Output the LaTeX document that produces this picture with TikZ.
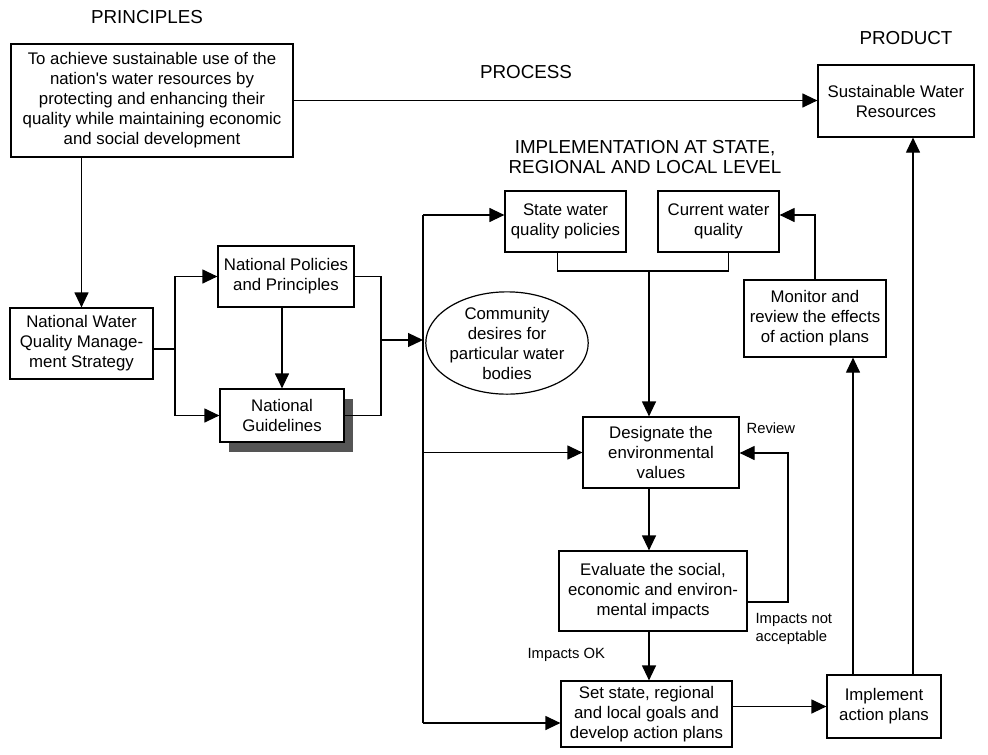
\documentclass[tikz,border=0pt]{standalone}
\usepackage{fontspec}
\setmainfont{Liberation Sans}
\usetikzlibrary{arrows.meta,shapes.geometric,shadows}
\definecolor{shadowgray}{HTML}{555555}

\begin{document}
\begin{tikzpicture}[x=1pt,y=-1pt,line width=1.2pt,
  box/.style={draw,align=center,inner sep=0,font=\fontsize{16.8}{20}\selectfont},
  arr/.style={-{Triangle[length=15pt,width=14pt]}},
  head/.style={align=center,inner sep=0,font=\fontsize{18.8}{20.5}\selectfont},
  note/.style={align=left,anchor=west,inner sep=0,font=\fontsize{14.8}{17.3}\selectfont}]
\useasboundingbox (0,0) rectangle (988,755);
\node[head] (hprin) at (147,17) {PRINCIPLES};
\node[head] (hproc) at (526,72) {PROCESS};
\node[head] (hprod) at (906,38) {PRODUCT};
\node[head] (himpl) at (645,157) {IMPLEMENTATION AT STATE,\\REGIONAL AND LOCAL LEVEL};
\node[box,minimum width=282pt,minimum height=113pt] (prin) at (152,100.5) {To achieve sustainable use of the\\nation\textquotesingle s water resources by\\protecting and enhancing their\\quality while maintaining economic\\and social development};
\node[box,minimum width=156pt,minimum height=72pt] (swr) at (896,101) {Sustainable Water\\Resources};
\node[box,minimum width=143pt,minimum height=71pt] (nwqms) at (81.5,343.5) {National Water\\Quality Manage-\\ment Strategy};
\node[box,minimum width=136pt,minimum height=61pt] (npp) at (286,276.5) {National Policies\\and Principles};
\node[box,fill=white,drop shadow={shadow xshift=9pt,shadow yshift=-10pt,fill=shadowgray,opacity=1},minimum width=124pt,minimum height=53pt] (ng) at (282,415.5) {National\\Guidelines};
\node[box,minimum width=121pt,minimum height=61pt] (state) at (565.5,221.5) {State water\\quality policies};
\node[box,minimum width=121pt,minimum height=61pt] (current) at (718.5,221.5) {Current water\\quality};
\node[box,ellipse,minimum width=145pt,minimum height=101pt] (community) at (507,343) {Community\\desires for\\particular water\\bodies};
\node[box,minimum width=142pt,minimum height=77pt] (monitor) at (815,318.5) {Monitor and\\review the effects\\of action plans};
\node[box,minimum width=156pt,minimum height=71pt] (designate) at (661,452.5) {Designate the\\environmental\\values};
\node[box,minimum width=188pt,minimum height=80pt] (evaluate) at (653,591) {Evaluate the social,\\economic and environ-\\mental impacts};
\node[box,minimum width=171pt,minimum height=66pt] (set) at (646.5,714) {Set state, regional\\and local goals and\\develop action plans};
\node[box,minimum width=114pt,minimum height=63pt] (implement) at (884,706.5) {Implement\\action plans};
\node[note] (lreview) at (746,428) {Review};
\node[note] (lok) at (527,655) {Impacts OK};
\node[note] (lnot) at (755,629) {Impacts not\\acceptable};
\coordinate (j1) at (175,349);
\coordinate (j2) at (381,340);
\coordinate (bustop) at (423,215);
\coordinate (busbot) at (423,723);
\coordinate (merge) at (649,271);
\coordinate (rv) at (788,453);
\coordinate (monx) at (853,0);
\coordinate (swrx) at (913,0);
\draw[arr] (prin.east) -- (prin.east -| swr.west);
\draw[arr] (prin.south -| nwqms.north) -- (nwqms.north);
\draw (nwqms.east |- j1) -- (j1);
\draw[arr] (j1) |- (npp.west);
\draw[arr] (j1) |- (ng.west);
\draw[arr] (npp.south -| ng.north) -- (ng.north);
\draw (npp.east) -| (j2) |- (ng.east);
\draw[arr] (j2) -- (j2 -| bustop);
\draw (bustop) -- (busbot);
\draw[arr] (bustop) -- (bustop -| state.west);
\draw[arr] (bustop |- designate) -- (designate.west);
\draw[arr] (busbot) -- (busbot -| set.west);
\draw ([xshift=-8pt]state.south) |- (merge) -| ([xshift=10pt]current.south);
\draw[arr] (merge) -- (merge |- designate.north);
\draw[arr] (designate.south -| merge) -- (evaluate.north -| merge);
\draw[arr] (evaluate.south -| merge) -- (set.north -| merge);
\draw[arr] ([yshift=-11pt]evaluate.east) -| (rv) -- (rv -| designate.east);
\draw[arr] (set.east |- implement) -- (implement.west);
\draw[arr] (implement.north -| monx) -- (monitor.south -| monx);
\draw[arr] (implement.north -| swrx) -- (swr.south -| swrx);
\draw[arr] (monitor.north) |- (current.east |- bustop);
\end{tikzpicture}
\end{document}
